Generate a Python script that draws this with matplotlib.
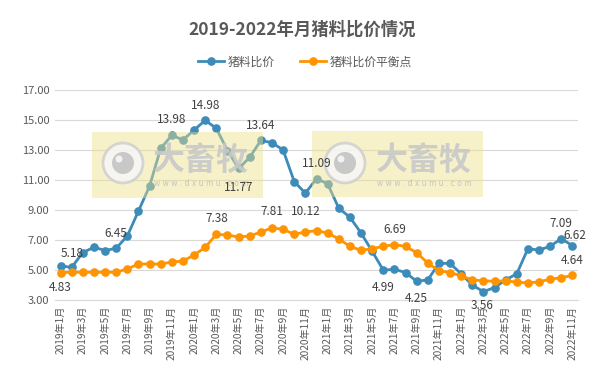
import matplotlib
matplotlib.use("Agg")
import matplotlib.pyplot as plt
from matplotlib.patches import Rectangle, Ellipse
import numpy as np

plt.rcParams['font.family'] = ['Noto Sans CJK SC', 'DejaVu Sans']

title = "2019-2022年月猪料比价情况"
series_names = ["猪料比价", "猪料比价平衡点"]

months = [f"{y}年{m}月" for y in range(2019, 2023) for m in range(1, 13)][:47]

ratio = [5.27, 5.18, 6.16, 6.52, 6.30, 6.45, 7.27, 8.93, 10.60, 13.11,
         13.98, 13.67, 14.33, 14.98, 14.44, 12.96, 11.77, 12.51, 13.64, 13.49,
         13.00, 10.89, 10.12, 11.09, 10.75, 9.12, 8.52, 7.47, 6.25, 4.99,
         5.05, 4.83, 4.25, 4.34, 5.44, 5.44, 4.75, 3.99, 3.56, 3.83,
         4.34, 4.75, 6.42, 6.33, 6.58, 7.09, 6.62]

balance = [4.83, 4.85, 4.85, 4.85, 4.85, 4.85, 5.07, 5.40, 5.40, 5.40,
           5.53, 5.60, 6.00, 6.51, 7.38, 7.33, 7.20, 7.27, 7.53, 7.81,
           7.71, 7.38, 7.54, 7.62, 7.47, 7.07, 6.58, 6.31, 6.42, 6.58,
           6.69, 6.58, 6.15, 5.46, 4.95, 4.83, 4.61, 4.34, 4.28, 4.25,
           4.28, 4.19, 4.14, 4.21, 4.39, 4.48, 4.64]

yticks = [3, 5, 7, 9, 11, 13, 15, 17]

# labelled points: (point index, dx px, dy px)
ratio_labels = [(1, 0, 14), (5, 0, 15), (10, 0, 16), (13, 0, 15), (16, 0, -19),
                (18, 0, 15), (22, 0, -18), (23, 0, 15), (29, 0, -17), (32, 0, -17),
                (38, -1, -14), (45, 0, 15), (46, 2, 10)]
balance_labels = [(0, 0, -15), (14, 0, 16), (19, 0, 16), (30, 0, 15), (46, 0, 15)]

W, H = 604, 376
fig = plt.figure(figsize=(W / 100, H / 100), dpi=100)
ax = fig.add_axes([55 / W, 1 - 300 / H, (578 - 55) / W, (300 - 90) / H])

blue = "#3D8BB8"
orange = "#FF9400"
x = np.arange(len(ratio))
ax.plot(x, ratio, color=blue, lw=2.0, marker="o", ms=5.2, label=series_names[0], zorder=3)
ax.plot(x, balance, color=orange, lw=2.0, marker="o", ms=5.2, label=series_names[1], zorder=4)

ax.set_xlim(-0.5, len(ratio) - 0.5)
ax.set_ylim(3, 17)
ax.set_yticks(yticks)
ax.set_yticklabels([f"{v:.2f}" for v in yticks], fontsize=8, color="#595959")
ax.set_xticks(x[::2])
ax.set_xticklabels(months[::2], rotation=90, fontsize=7.3, color="#595959")
ax.tick_params(length=0, pad=4)
ax.grid(axis="y", color="#D9D9D9", lw=0.8)
ax.set_axisbelow(True)
for s in ["top", "right", "left"]:
    ax.spines[s].set_visible(False)
ax.spines["bottom"].set_color("#D9D9D9")

def lab(series, idx, dx, dy):
    v = series[idx]
    ax.annotate(f"{v:.2f}", (idx, v), xytext=(dx * 0.72, dy * 0.72), textcoords="offset points",
                ha="center", va="center", fontsize=8.5, color="#404040", zorder=8)

for i, dx, dy in ratio_labels:
    lab(ratio, i, dx, dy)
for i, dx, dy in balance_labels:
    lab(balance, i, dx, dy)

fig.text(0.5, 1 - 30 / H, title, ha="center", va="center", fontsize=12.5,
         fontweight="bold", color="#595959")
fig.legend(loc="center", bbox_to_anchor=(305 / W, 1 - 62 / H), ncol=2, frameon=False,
           fontsize=8.5, labelcolor="#595959", handlelength=2.2, columnspacing=2.2,
           handletextpad=0.3)

# watermarks (drawn inside the axes, above the lines, below the data labels)
def px(xp, yp):
    return xp / W, 1 - yp / H

def circ(cx, cy, r, **kw):
    return Ellipse(px(cx, cy), 2 * r / W, 2 * r / H, transform=fig.transFigure,
                   clip_on=False, **kw)

tf = fig.transFigure
for (x0, y0, x1, y1, cx, cy, tx) in [(92, 132, 263, 198, 123, 163, 201),
                                     (312, 131, 483, 197, 345, 163, 424)]:
    ax.add_patch(Rectangle(px(x0, y1), (x1 - x0) / W, (y1 - y0) / H, transform=tf,
                           facecolor="#EEE08A", alpha=0.45, edgecolor="none",
                           zorder=5, clip_on=False))
    ax.add_patch(circ(cx, cy, 20, facecolor="#F6F6F6", edgecolor="#CFCFCF", lw=2,
                      alpha=0.85, zorder=5.1))
    ax.add_patch(circ(cx, cy, 11, facecolor="#C6C6C6", edgecolor="none",
                      alpha=0.95, zorder=5.2))
    ax.add_patch(circ(cx - 4, cy - 4, 3.5, facecolor="#F2F2F2", edgecolor="none",
                      zorder=5.3))
    ax.text(*px(tx, 161), "大畜牧", transform=tf, ha="center", va="center", fontsize=23,
            fontweight="bold", color="#C8C8C8", alpha=0.9, zorder=5.2)
    ax.text(*px(tx, 183), "w w w . d x u m u . c o m", transform=tf, ha="center",
            va="center", fontsize=5.5, color="#C4C4C4", family="DejaVu Sans", zorder=5.2)

fig.savefig("out.png", dpi=100)
